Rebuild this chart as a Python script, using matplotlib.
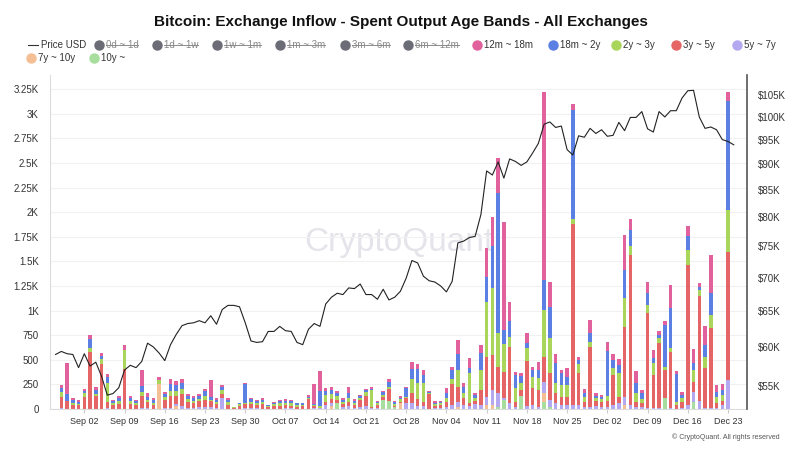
import numpy as np
import pandas as pd
import matplotlib
matplotlib.use('Agg')
import matplotlib.pyplot as plt
import matplotlib.dates as mdates
from matplotlib.lines import Line2D
from matplotlib.ticker import FixedLocator, FuncFormatter, NullLocator

plt.rcParams['font.family'] = ['Liberation Sans', 'DejaVu Sans']

dates = pd.date_range('2024-08-28', '2024-12-24', freq='D')

# exchange inflow per spent output age band (BTC / day), Aug 28 -> Dec 24
band_12m_18m = [0, 35, 310, 20,
    15, 20, 35, 25, 25, 40, 15, 20, 60, 25, 17, 170, 40, 20, 34, 25, 45, 40, 40, 20, 17, 20, 23, 170, 13, 19, 15, 0, 4, 12,
    15, 8, 13, 3, 10, 12, 13, 12, 7, 7, 14, 200, 210, 30, 30, 20, 15, 65, 15, 10, 15, 15, 8, 16, 25, 12, 20, 10, 71, 54, 51,
    16, 15, 10, 50, 27, 142, 35, 100, 20, 85, 288, 298, 356, 1100, 197, 35, 25, 100, 34, 85, 1905, 247, 92, 34, 85, 58, 27, 40, 136, 30,
    20, 85, 58, 58, 352, 108, 129, 35, 119, 85, 44, 44, 237, 34, 34, 108, 142, 41, 197, 390, 68, 61, 92, 0]
band_18m_2y = [0, 35, 75, 25,
    20, 25, 95, 40, 30, 60, 20, 35, 0, 30, 20, 60, 35, 30, 0, 30, 70, 60, 60, 30, 30, 25, 50, 35, 20, 35, 18, 7, 10, 200,
    25, 15, 20, 8, 15, 20, 20, 15, 12, 12, 15, 10, 150, 35, 40, 30, 20, 50, 25, 20, 20, 10, 10, 25, 50, 15, 15, 100, 102, 142, 85,
    10, 15, 15, 50, 95, 163, 65, 50, 30, 170, 254, 424, 1424, 140, 153, 135, 70, 50, 68, 85, 305, 322, 203, 119, 85, 1112, 41, 40, 85, 20,
    25, 461, 85, 85, 288, 170, 102, 60, 119, 51, 34, 424, 407, 288, 34, 136, 68, 34, 119, 220, 51, 51, 1102, 0]
band_2y_3y = [0, 55, 0, 20,
    15, 40, 45, 25, 50, 190, 15, 25, 190, 25, 15, 40, 20, 15, 40, 30, 50, 50, 50, 25, 20, 25, 35, 10, 20, 35, 30, 5, 20, 10,
    25, 20, 25, 10, 20, 30, 25, 30, 20, 15, 10, 15, 15, 70, 50, 40, 25, 35, 20, 25, 40, 175, 20, 25, 20, 20, 25, 10, 142, 163, 186,
    10, 20, 20, 34, 47, 176, 50, 300, 30, 203, 559, 678, 339, 280, 102, 135, 70, 136, 119, 119, 475, 356, 102, 119, 119, 47, 95, 45, 51, 30,
    30, 47, 68, 237, 288, 85, 85, 40, 85, 119, 51, 34, 34, 24, 34, 153, 119, 51, 119, 136, 68, 58, 434, 0]
band_3y_5y = [0, 110, 75, 40,
    35, 115, 570, 125, 455, 60, 40, 50, 400, 50, 40, 120, 60, 40, 0, 80, 120, 80, 120, 60, 55, 60, 70, 60, 45, 45, 40, 12, 25, 40,
    40, 35, 45, 20, 25, 25, 30, 25, 20, 25, 100, 20, 5, 35, 40, 30, 30, 45, 30, 70, 100, 12, 30, 30, 120, 10, 20, 50, 102, 68, 44,
    150, 20, 30, 50, 214, 153, 70, 35, 30, 153, 407, 356, 271, 270, 576, 50, 70, 458, 170, 170, 254, 271, 95, 85, 85, 1841, 322, 50, 610, 50,
    45, 68, 305, 68, 712, 1525, 58, 35, 966, 339, 661, 288, 576, 44, 68, 1424, 102, 1068, 407, 814, 51, 44, 1295, 0]
band_5y_7y = [0, 12, 5, 5,
    3, 5, 5, 5, 5, 10, 5, 5, 5, 5, 3, 10, 8, 5, 5, 10, 15, 20, 30, 15, 10, 20, 25, 20, 10, 110, 5, 0, 5, 6,
    10, 10, 5, 0, 5, 5, 10, 10, 5, 5, 0, 6, 10, 40, 30, 6, 18, 30, 8, 17, 28, 8, 13, 0, 0, 0, 0, 57, 58, 30, 30,
    0, 10, 10, 25, 40, 51, 40, 30, 49, 40, 85, 153, 136, 18, 58, 25, 0, 26, 39, 22, 119, 68, 64, 40, 40, 40, 40, 25, 23, 29,
    22, 17, 40, 57, 85, 41, 16, 23, 6, 6, 7, 0, 7, 0, 6, 40, 102, 85, 6, 6, 6, 40, 295, 0]
band_7y_10y = [0, 0, 0, 0,
    0, 0, 0, 0, 0, 0, 0, 0, 0, 0, 0, 0, 0, 0, 250, 0, 0, 30, 0, 0, 0, 0, 0, 0, 0, 0, 0, 0, 0, 0,
    0, 0, 0, 0, 0, 0, 0, 0, 0, 0, 0, 0, 0, 0, 30, 0, 0, 0, 0, 0, 0, 0, 0, 0, 0, 0, 56, 0, 0, 0, 0,
    0, 0, 0, 0, 0, 20, 0, 0, 0, 0, 41, 41, 0, 0, 0, 0, 0, 0, 0, 0, 85, 0, 0, 0, 0, 0, 0, 0, 0, 0,
    0, 0, 0, 0, 41, 0, 0, 0, 0, 0, 0, 0, 0, 0, 0, 0, 0, 0, 0, 0, 0, 0, 0, 0]
band_10y = [0, 0, 0, 0,
    0, 0, 0, 0, 0, 0, 0, 0, 0, 0, 0, 0, 0, 0, 0, 0, 0, 0, 0, 0, 0, 0, 0, 0, 0, 0, 0, 0, 0, 0,
    0, 0, 0, 0, 0, 0, 0, 0, 0, 0, 0, 0, 0, 0, 0, 60, 0, 0, 0, 0, 0, 0, 0, 90, 85, 24, 0, 0, 0, 0, 0,
    0, 0, 0, 0, 0, 0, 0, 0, 0, 0, 0, 0, 24, 90, 0, 0, 128, 0, 0, 0, 75, 24, 0, 0, 0, 0, 0, 0, 0, 0,
    0, 0, 0, 0, 0, 0, 0, 0, 0, 0, 0, 108, 0, 0, 0, 0, 75, 0, 0, 0, 0, 0, 0, 0]

# BTC price, thousands of USD
price_k = [59.0, 59.4, 59.1, 59.0,
    57.3, 59.1, 57.5, 58.0, 56.2, 53.9, 54.1, 54.8, 57.0, 57.6, 57.3, 58.1, 60.5, 60.0, 59.2, 58.2, 60.3, 61.7, 62.9, 63.2,
    63.3, 63.6, 63.3, 64.3, 63.1, 65.2, 65.8, 65.8, 65.6, 63.3,
    60.8, 60.6, 60.7, 62.1, 62.1, 62.8, 62.2, 62.1, 60.6, 60.3, 62.4, 63.2, 62.8, 66.0, 67.0, 67.6, 67.4, 68.4, 68.3, 69.0,
    67.4, 67.4, 66.7, 68.2, 66.6, 67.0, 67.9, 69.9, 72.7, 72.3, 70.2,
    69.5, 69.3, 68.7, 67.8, 69.4, 75.6, 75.9, 76.5, 76.7, 80.5, 88.7, 87.9, 90.5, 87.3, 91.1, 90.6, 89.8, 90.5, 92.3, 94.3,
    98.4, 98.9, 97.7, 98.0, 93.0, 91.9, 95.9, 95.6, 97.5, 96.4,
    97.2, 95.8, 96.0, 98.8, 97.0, 99.9, 99.9, 101.2, 97.4, 96.7, 101.2, 100.0, 101.4, 101.4, 104.3, 106.0, 106.1, 100.0,
    97.5, 97.8, 97.2, 95.1, 94.7, 94.0]

# stacked bottom -> top
stack = [
    ('10y ~', band_10y, '#a7dd9d'),
    ('7y ~ 10y', band_7y_10y, '#f4bf95'),
    ('5y ~ 7y', band_5y_7y, '#b4a9f1'),
    ('3y ~ 5y', band_3y_5y, '#e56466'),
    ('2y ~ 3y', band_2y_3y, '#a9d55b'),
    ('18m ~ 2y', band_18m_2y, '#5b7fe3'),
    ('12m ~ 18m', band_12m_18m, '#e1619d'),
]
for name, vals, c in stack:
    if len(vals) != len(dates):
        raise ValueError(name + ' has %d values' % len(vals))

x = mdates.date2num(dates)

W, H = 800, 450
fig = plt.figure(figsize=(8, 4.5), dpi=100)
ax = fig.add_axes([50 / W, (H - 409) / H, (747 - 50) / W, (409 - 75) / H])
ax2 = ax.twinx()

ax.text(0.5, 0.5, 'CryptoQuant', transform=ax.transAxes, ha='center', va='center',
        fontsize=24, color='#e4e4ea', zorder=0)

bottom = np.zeros(len(dates))
for name, vals, c in stack:
    v = np.array(vals, dtype=float)
    ax.bar(x, v, width=0.62, bottom=bottom, color=c, linewidth=0, zorder=2)
    bottom += v

ax2.plot(x, np.array(price_k) * 1000, color='#222222', lw=0.8)

# axes ranges
x0 = mdates.date2num(pd.Timestamp('2024-08-29'))
ax.set_xlim(x0 - 1.97, x0 + 119.3)
ax.set_ylim(0, 3393)
ax2.set_yscale('log')
ax2.set_ylim(52270, 109770)

# left axis
left_ticks = np.arange(0, 3251, 250)
ax.yaxis.set_major_locator(FixedLocator(left_ticks))
def kfmt(v, pos):
    if v < 1000:
        return '%d' % v
    return ('%g' % (v / 1000)) + 'K'
ax.yaxis.set_major_formatter(FuncFormatter(kfmt))
ax.yaxis.grid(True, color='#f1f1f1', lw=0.8)
ax.set_axisbelow(True)
ax.tick_params(axis='y', length=0, pad=8, labelsize=7, labelcolor='#333333')

# right axis
right_ticks = np.arange(55000, 105001, 5000)
ax2.yaxis.set_major_locator(FixedLocator(right_ticks))
ax2.yaxis.set_minor_locator(NullLocator())
ax2.yaxis.set_major_formatter(FuncFormatter(lambda v, p: '$%dK' % round(v / 1000)))
ax2.tick_params(axis='y', length=0, pad=8, labelsize=7, labelcolor='#333333')

# x axis
xticks = pd.date_range('2024-09-02', '2024-12-23', freq='7D')
ax.xaxis.set_major_locator(FixedLocator(mdates.date2num(xticks)))
ax.xaxis.set_major_formatter(mdates.DateFormatter('%b %d'))
ax.tick_params(axis='x', length=3, color='#cccccc', pad=3, labelsize=6.5, labelcolor='#333333')

for s in ['top', 'right']:
    ax.spines[s].set_visible(False)
ax.spines['left'].set_color('#dcdcdc')
ax.spines['bottom'].set_color('#dcdcdc')
for s in ['top', 'left', 'bottom']:
    ax2.spines[s].set_visible(False)
ax2.spines['right'].set_color('#555555')
ax2.spines['right'].set_linewidth(1.2)

# title
fig.text(401 / W, 1 - 22 / H, 'Bitcoin: Exchange Inflow - Spent Output Age Bands - All Exchanges',
         ha='center', va='center', fontsize=11, fontweight='bold', color='#111111')

# legend, built by hand
def fx(px):
    return px / W
def fy(py):
    return 1 - py / H

row1, row2 = 45, 58
fig.add_artist(Line2D([fx(28), fx(38)], [fy(row1), fy(row1)], transform=fig.transFigure,
                      color='#333333', lw=0.8))
fig.text(fx(41), fy(row1), 'Price USD', ha='left', va='center', fontsize=7, color='#333333')

hidden = [('0d ~ 1d', 98.5), ('1d ~ 1w', 157), ('1w ~ 1m', 217), ('1m ~ 3m', 280),
          ('3m ~ 6m', 345), ('6m ~ 12m', 408)]
struck = []
for lab, cx in hidden:
    fig.add_artist(Line2D([fx(cx)], [fy(row1)], transform=fig.transFigure, marker='o',
                          markersize=6.5, color='#6c6c76', lw=0))
    struck.append(fig.text(fx(cx + 7), fy(row1), lab, ha='left', va='center', fontsize=7, color='#8a8a8a'))

shown = [('12m ~ 18m', 477, row1), ('18m ~ 2y', 553, row1), ('2y ~ 3y', 616, row1),
         ('3y ~ 5y', 676, row1), ('5y ~ 7y', 737, row1), ('7y ~ 10y', 31, row2), ('10y ~', 94, row2)]
colors = {name: c for name, vals, c in stack}
for lab, cx, ry in shown:
    fig.add_artist(Line2D([fx(cx)], [fy(ry)], transform=fig.transFigure, marker='o',
                          markersize=6.5, color=colors[lab], lw=0))
    fig.text(fx(cx + 7), fy(ry), lab, ha='left', va='center', fontsize=7, color='#333333')

fig.text(fx(780), fy(437), '\u00a9 CryptoQuant. All rights reserved', ha='right', va='center',
         fontsize=5, color='#555555')

fig.canvas.draw()
r = fig.canvas.get_renderer()
for t in struck:
    bb = t.get_window_extent(r).transformed(fig.transFigure.inverted())
    ym = bb.y0 + bb.height * 0.47
    fig.add_artist(Line2D([bb.x0, bb.x1], [ym, ym], transform=fig.transFigure,
                          color='#8a8a8a', lw=0.7))

fig.savefig('out.png', dpi=100, facecolor='white')
